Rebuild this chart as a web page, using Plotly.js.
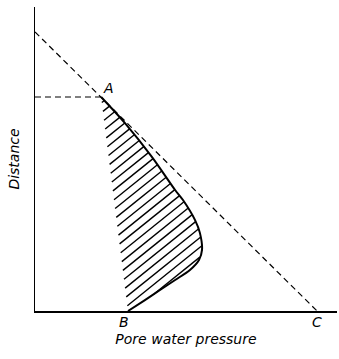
<!DOCTYPE html>
<html>
<head>
<meta charset="utf-8">
<script src="https://cdn.plot.ly/plotly-3.0.1.min.js"></script>
<style>
  body { margin: 0; background: #fff; }
  #plotArea { width: 339px; height: 359px; }
</style>
</head>
<body>
<div id="plotArea"></div>
<script>
// Hydrostatic line from the top of the distance axis down to C
var hydroX = [0, 9.34];
var hydroY = [9.18, 0];

// Level of point A, carried back to the distance axis
var levelX = [0, 2.19];
var levelY = [7.04, 7.04];

// Pore pressure curve from A round to B
var curveX = [2.19, 2.98, 3.87, 4.64, 4.90, 5.30, 5.46, 5.53, 5.43, 5.13, 4.64, 4.14, 3.64, 3.08];
var curveY = [7.04, 6.18, 5.07, 3.98, 3.65, 2.99, 2.57, 2.01, 1.68, 1.35, 1.02, 0.69, 0.36, 0];

// Point labels
var pointNames = ["A", "B", "C"];
var pointX = [2.45, 2.95, 9.34];
var pointY = [0.732, -0.036, -0.036];

var dashStyle = "6px,4px";
var hatchSlope = 0.8;
var hatchGap = 0.32;

// hatching: cut lines y = slope*x + c against the closed region
function hatchLines(px, py) {
    var xs = [], ys = [];
    var n = px.length;
    var lo = Math.min.apply(null, py.map(function(v, i) { return v - hatchSlope * px[i]; }));
    var hi = Math.max.apply(null, py.map(function(v, i) { return v - hatchSlope * px[i]; }));
    for (var c = lo + hatchGap / 2; c < hi; c += hatchGap) {
        var hits = [];
        for (var i = 0; i < n; i++) {
            var j = (i + 1) % n;
            var f1 = py[i] - hatchSlope * px[i] - c;
            var f2 = py[j] - hatchSlope * px[j] - c;
            if ((f1 <= 0 && f2 > 0) || (f1 > 0 && f2 <= 0)) {
                var t = f1 / (f1 - f2);
                hits.push(px[i] + t * (px[j] - px[i]));
            }
        }
        hits.sort(function(a, b) { return a - b; });
        for (var k = 0; k + 1 < hits.length; k += 2) {
            xs.push(hits[k], hits[k + 1], null);
            ys.push(hatchSlope * hits[k] + c, hatchSlope * hits[k + 1] + c, null);
        }
    }
    return {x: xs, y: ys};
}

var h = hatchLines(curveX, curveY);

var hatch = {
    x: h.x,
    y: h.y,
    mode: "lines",
    type: "scatter",
    line: {color: "#000000", width: 1.4},
    hoverinfo: "skip"
};

var curve = {
    x: curveX,
    y: curveY,
    mode: "lines",
    type: "scatter",
    line: {color: "#000000", width: 2, shape: "spline", smoothing: 0.8},
    hoverinfo: "skip"
};

var hydro = {
    x: hydroX,
    y: hydroY,
    mode: "lines",
    type: "scatter",
    line: {color: "#000000", width: 1.2, dash: dashStyle},
    hoverinfo: "skip"
};

var level = {
    x: levelX,
    y: levelY,
    mode: "lines",
    type: "scatter",
    line: {color: "#000000", width: 1.2, dash: dashStyle},
    hoverinfo: "skip"
};

var labelFont = {family: "DejaVu Sans", size: 14, color: "#000000", style: "italic"};

var notes = pointNames.map(function(name, i) {
    return {
        x: pointX[i],
        y: pointY[i],
        xref: "x",
        yref: "paper",
        text: name,
        showarrow: false,
        font: labelFont,
        xanchor: "center",
        yanchor: "middle"
    };
});

var axisFont = {family: "DejaVu Sans", size: 14, color: "#000000", style: "italic"};

var layout = {
    width: 339,
    height: 359,
    margin: {l: 35, r: 2, t: 7, b: 48},
    paper_bgcolor: "#ffffff",
    plot_bgcolor: "#ffffff",
    font: {color: "#000000"},
    showlegend: false,
    xaxis: {
        range: [0, 10],
        showline: true,
        linecolor: "#000000",
        linewidth: 1.5,
        showgrid: false,
        zeroline: false,
        showticklabels: false,
        ticks: "",
        fixedrange: true,
        title: {text: "Pore water pressure", font: axisFont, standoff: 22}
    },
    yaxis: {
        range: [0, 10],
        showline: true,
        linecolor: "#000000",
        linewidth: 1.5,
        showgrid: false,
        zeroline: false,
        showticklabels: false,
        ticks: "",
        fixedrange: true,
        title: {text: "Distance", font: axisFont, standoff: 10}
    },
    annotations: notes
};

Plotly.newPlot("plotArea", [hatch, curve, hydro, level], layout, {staticPlot: true});
</script>
</body>
</html>
